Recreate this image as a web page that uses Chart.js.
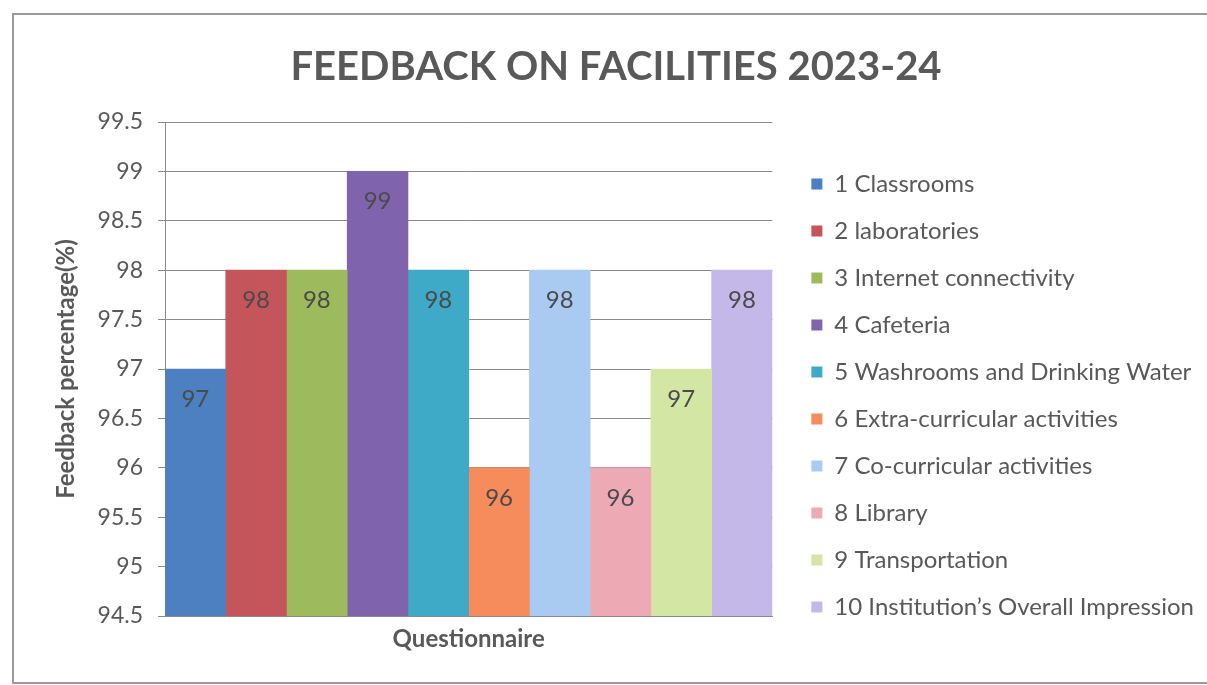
<!DOCTYPE html>
<html>
<head>
<meta charset="utf-8">
<title>Feedback on Facilities 2023-24</title>
<script src="https://cdn.jsdelivr.net/npm/chart.js@4.4.1/dist/chart.umd.min.js"></script>
<style>
    html, body { margin: 0; padding: 0; background: #ffffff; }
    #container { width: 1207px; height: 685px; }
</style>
</head>
<body>
<div id="container"><canvas id="canvas" width="1207" height="685"></canvas></div>
<script>
    // chart data
    const sTitle = "FEEDBACK ON FACILITIES 2023-24";
    const aCategory = ["Questionnaire"];
    const aLabel = [
        "1 Classrooms",
        "2 laboratories",
        "3 Internet connectivity",
        "4 Cafeteria",
        "5 Washrooms and Drinking Water",
        "6 Extra-curricular activities",
        "7 Co-curricular activities",
        "8 Library",
        "9 Transportation",
        "10 Institution\u2019s Overall Impression"
    ];
    const aValue = [97, 98, 98, 99, 98, 96, 98, 96, 97, 98];
    const aYRange = [94.5, 99.5];
    const nYStep = 0.5;
    const sXTitle = "Questionnaire";
    const sYTitle = "Feedback percentage(%)";

    // colours per series
    const aColor = ["#4c80c1", "#c4555a", "#9dbb5c", "#7f64ad", "#3fa9c8", "#f68b5b", "#aacbf1", "#eeaab4", "#d4e6a4", "#c4b8e8"];

    const sFont = "Lato, 'Liberation Sans', sans-serif";
    const sTextColor = "#595959";
    const sGridColor = "#8a8a8a";

    // legend font / spacing
    const iLegendFont = 24;
    const iLegendPad = 23;
    const iLegendBox = 11;

    // measure widest legend text so the plot ends where the legend starts
    const oMeasure = document.createElement("canvas").getContext("2d");
    oMeasure.font = iLegendFont + "px " + sFont;
    let iMaxText = 0;
    aLabel.forEach(function (s) { iMaxText = Math.max(iMaxText, oMeasure.measureText(s).width); });
    const iLegendLeft = 788;
    const iLegendWidth = iLegendPad + iLegendBox + iLegendFont / 2 + iMaxText + 10;
    const iPadRight = Math.max(0, Math.round(1207 - iLegendLeft - iLegendWidth));
    // keep the title centred where the original is
    const iPadLeft = iPadRight + 25;

    // scanned frame around the chart
    const oFramePlugin = {
        id: "frame",
        beforeDraw: function (oChart) {
            const ctx = oChart.ctx;
            ctx.save();
            ctx.fillStyle = "#ffffff";
            ctx.fillRect(0, 0, oChart.width, oChart.height);
            ctx.strokeStyle = "#9a9a9a";
            ctx.lineWidth = 2;
            ctx.beginPath();
            ctx.moveTo(1207, 14);
            ctx.lineTo(13, 14);
            ctx.lineTo(13, 683);
            ctx.lineTo(1207, 683);
            ctx.stroke();
            ctx.restore();
        }
    };

    // value labels inside the top of each bar
    const oValuePlugin = {
        id: "valueLabels",
        afterDatasetsDraw: function (oChart) {
            const ctx = oChart.ctx;
            ctx.save();
            ctx.font = "24px " + sFont;
            ctx.fillStyle = "#4a4a4a";
            ctx.textAlign = "center";
            ctx.textBaseline = "middle";
            oChart.data.datasets.forEach(function (oSet, i) {
                const oMeta = oChart.getDatasetMeta(i);
                oMeta.data.forEach(function (oBar, j) {
                    ctx.fillText(String(oSet.data[j]), oBar.x, oBar.y + 30);
                });
            });
            ctx.restore();
        }
    };

    const aDatasets = aLabel.map(function (sLabel, i) {
        return {
            label: sLabel,
            data: [aValue[i]],
            backgroundColor: aColor[i],
            borderWidth: 0,
            barPercentage: 1,
            categoryPercentage: 1,
            yAxisID: "y"
        };
    });

    const ctx = document.getElementById("canvas").getContext("2d");
    const oChart = new Chart(ctx, {
        type: "bar",
        plugins: [oFramePlugin, oValuePlugin],
        data: {
            labels: aCategory,
            datasets: aDatasets
        },
        options: {
            responsive: false,
            animation: false,
            devicePixelRatio: 1,
            layout: {
                padding: { left: iPadLeft, right: iPadRight, top: 0, bottom: 31 }
            },
            plugins: {
                title: {
                    display: true,
                    text: sTitle,
                    color: sTextColor,
                    font: { family: sFont, size: 40, weight: "bold", lineHeight: 1.2 },
                    padding: { top: 43, bottom: 31 }
                },
                legend: {
                    display: true,
                    position: "right",
                    align: "start",
                    maxWidth: 700,
                    title: {
                        display: true,
                        text: "",
                        font: { size: 12, lineHeight: 1 },
                        padding: { top: 137, bottom: 0 }
                    },
                    labels: {
                        boxWidth: iLegendBox,
                        boxHeight: iLegendBox,
                        padding: iLegendPad,
                        color: sTextColor,
                        font: { family: sFont, size: iLegendFont }
                    }
                },
                tooltip: { enabled: false }
            },
            scales: {
                x: {
                    ticks: { display: false },
                    grid: { display: false },
                    border: { display: true, color: sGridColor },
                    title: {
                        display: true,
                        text: sXTitle,
                        color: sTextColor,
                        font: { family: sFont, size: 24, weight: "bold", lineHeight: 1.2 },
                        padding: { top: 0, bottom: 0 }
                    },
                    afterFit: function (oScale) { oScale.height = 38; }
                },
                y: {
                    min: aYRange[0],
                    max: aYRange[1],
                    ticks: {
                        stepSize: nYStep,
                        padding: 15,
                        color: sTextColor,
                        font: { family: sFont, size: 23 },
                        callback: function (value) {
                            return String(value);
                        }
                    },
                    grid: { color: sGridColor, tickLength: 7, drawTicks: true },
                    border: { display: true, color: sGridColor },
                    title: {
                        display: true,
                        text: sYTitle,
                        color: sTextColor,
                        font: { family: sFont, size: 24, weight: "bold", lineHeight: 1.2 },
                        padding: { top: Math.max(0, 66 - 14.4 - iPadLeft), bottom: 0 }
                    },
                    afterFit: function (oScale) { oScale.width = 165 - iPadLeft; }
                },
                // empty right axis: gap between plot and legend
                y2: {
                    position: "right",
                    display: true,
                    ticks: { display: false },
                    grid: { display: false },
                    border: { display: false },
                    afterFit: function (oScale) { oScale.width = 16; }
                }
            }
        }
    });
</script>
</body>
</html>
